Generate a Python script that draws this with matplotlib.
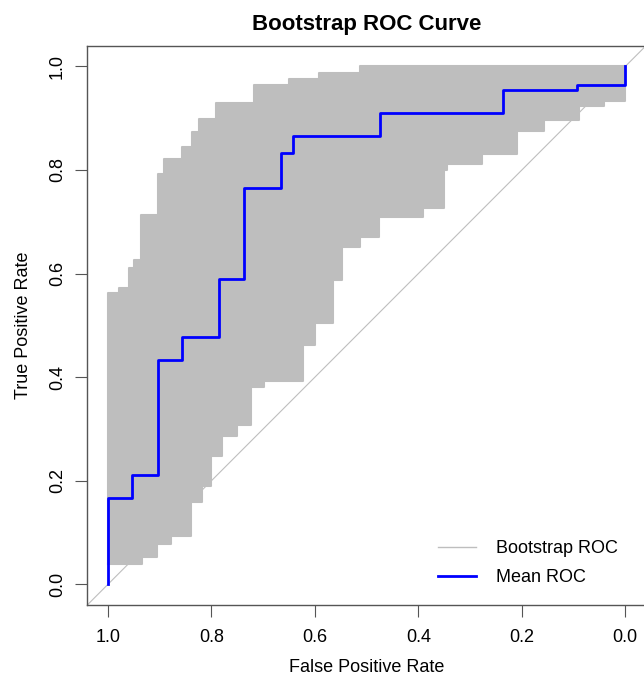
import numpy as np
import matplotlib
matplotlib.use('Agg')
from matplotlib import pyplot as plt
from matplotlib.lines import Line2D

plt.rcParams['font.family'] = ['Liberation Sans', 'DejaVu Sans']

# step curves: specificity where the curve steps up, and sensitivity it steps up to
mean_spec = [1.0, 0.953, 0.904, 0.856, 0.785, 0.737, 0.665, 0.642, 0.475, 0.237, 0.093, 0.0]
mean_sens = [0.167, 0.211, 0.434, 0.477, 0.590, 0.765, 0.832, 0.865, 0.911, 0.955, 0.965, 1.0]

# outer edges of the bootstrap cloud (upper-left and lower-right)
upper_spec = [1.0, 0.979, 0.959, 0.950, 0.937, 0.903, 0.892, 0.856, 0.837, 0.824,
              0.792, 0.718, 0.650, 0.592, 0.512]
upper_sens = [0.562, 0.572, 0.610, 0.626, 0.713, 0.793, 0.822, 0.844, 0.873, 0.899,
              0.929, 0.965, 0.976, 0.988, 1.0]
lower_spec = [1.0, 0.934, 0.905, 0.879, 0.840, 0.818, 0.800, 0.779, 0.750, 0.724,
              0.699, 0.624, 0.599, 0.566, 0.547, 0.512, 0.476, 0.392, 0.351, 0.344,
              0.277, 0.209, 0.157, 0.090, 0.041, 0.0]
lower_sens = [0.040, 0.053, 0.078, 0.094, 0.158, 0.190, 0.248, 0.287, 0.307, 0.380,
              0.392, 0.463, 0.505, 0.588, 0.652, 0.671, 0.710, 0.726, 0.800, 0.812,
              0.830, 0.876, 0.896, 0.924, 0.934, 0.947]
boot_start = 0.040

tick_vals = [0.0, 0.2, 0.4, 0.6, 0.8, 1.0]
tick_labels = ['0.0', '0.2', '0.4', '0.6', '0.8', '1.0']

GRAY = '#BEBEBE'


def stairs(spec, sens, start, end=0.0):
    # vertical jump at each spec value, then flat until the next one
    xs, ys = [spec[0]], [start]
    for i in range(len(spec)):
        xs.append(spec[i]); ys.append(sens[i])
        nxt = spec[i + 1] if i + 1 < len(spec) else end
        xs.append(nxt); ys.append(sens[i])
    return np.array(xs), np.array(ys)


fig = plt.figure(figsize=(6.44, 6.81), dpi=100)
ax = fig.add_axes([87.3 / 644, 76 / 681, (646 - 87.3) / 644, (605 - 45.7) / 681])

ux, uy = stairs(upper_spec, upper_sens, boot_start)
lx, ly = stairs(lower_spec, lower_sens, boot_start)
lx = np.append(lx, 0.0); ly = np.append(ly, 1.0)

ax.axline((1, 0), (0, 1), color=GRAY, lw=0.8, zorder=1)
ax.fill(np.concatenate([ux, lx[::-1]]), np.concatenate([uy, ly[::-1]]),
        color=GRAY, lw=0, zorder=2)
ax.plot(ux, uy, color=GRAY, lw=1.5, zorder=3)
ax.plot(lx, ly, color=GRAY, lw=1.5, zorder=3)

mx, my = stairs(mean_spec, mean_sens, 0.0)
ax.plot(mx, my, color='#0000FF', lw=2.0, zorder=4)

ax.set_xlim(1.04, -0.04)
ax.set_ylim(-0.04, 1.04)
ax.set_xticks(tick_vals)
ax.set_xticklabels(tick_labels)
ax.set_yticks(tick_vals)
ax.set_yticklabels(tick_labels, rotation=90, va='center')

for sp in ax.spines.values():
    sp.set_color('#555555')
    sp.set_linewidth(1.0)
ax.tick_params(axis='both', length=8.5, width=0.8, color='#555555', labelsize=13)
ax.tick_params(axis='x', pad=9)
ax.tick_params(axis='y', pad=7)

ax.set_xlabel('False Positive Rate', fontsize=13, labelpad=9)
ax.set_ylabel('True Positive Rate', fontsize=13, labelpad=12)
ax.set_title('Bootstrap ROC Curve', fontsize=16, fontweight='bold', pad=11)

handles = [Line2D([], [], color=GRAY, lw=1.0), Line2D([], [], color='#0000FF', lw=2.0)]
fig.legend(handles, ['Bootstrap ROC', 'Mean ROC'], loc='lower left',
           bbox_to_anchor=(429 / 644, 86 / 681), frameon=False, fontsize=13,
           handlelength=2.1, handletextpad=1.1, labelspacing=0.65, borderpad=0)

fig.savefig('out.png', dpi=100)
